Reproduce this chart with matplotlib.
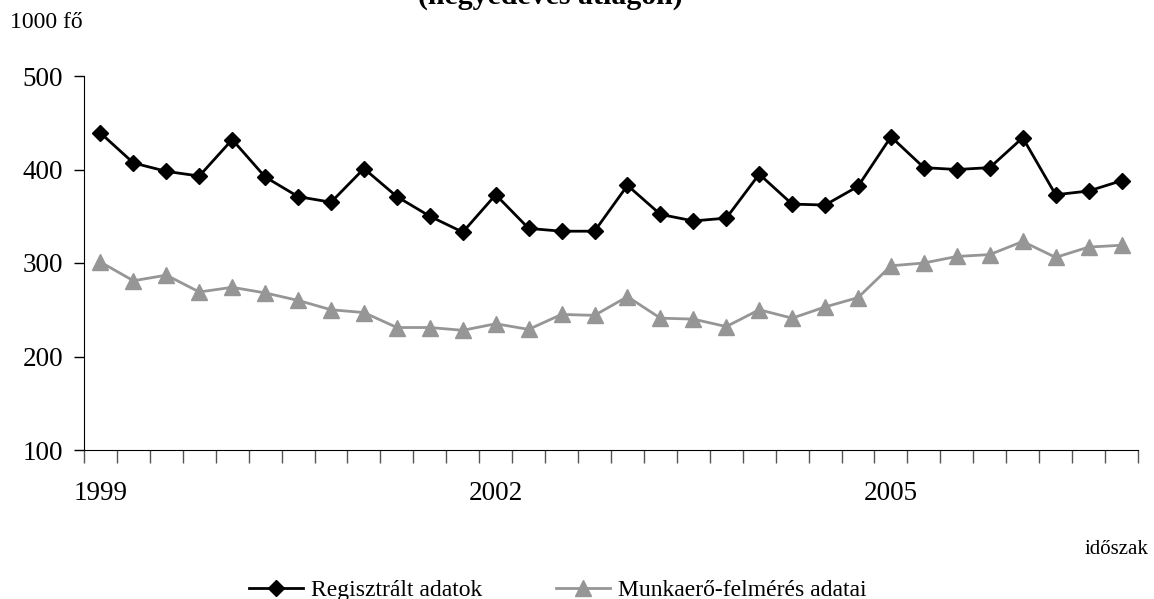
import matplotlib
matplotlib.use("Agg")
import matplotlib.pyplot as plt
from matplotlib.ticker import FixedLocator, NullFormatter

plt.rcParams['font.family'] = ['Liberation Serif', 'DejaVu Serif']

# negyedéves adatok 1999 I. - 2006 IV. (1000 fő)
regisztralt = [439, 407, 398, 393, 432, 392, 371, 365,
               401, 371, 350, 333, 373, 337, 334, 334,
               383, 352, 345, 348, 395, 363, 362, 382,
               435, 402, 400, 402, 434, 373, 377, 388]
munkaero = [301, 281, 287, 269, 274, 268, 260, 250,
            247, 231, 231, 228, 235, 229, 245, 244,
            264, 241, 240, 232, 250, 241, 253, 263,
            297, 300, 307, 309, 323, 306, 317, 319]
year_labels = ["1999", "2002", "2005"]
year_pos = [0, 12, 24]
y_ticks = [100, 200, 300, 400, 500]

x = list(range(len(regisztralt)))

fig = plt.figure(figsize=(11.54, 5.99), dpi=100)
ax = fig.add_axes([84/1154, 1 - 450/599, (1138 - 84)/1154, (450 - 76)/599])

ax.plot(x, regisztralt, color="black", lw=2.0, marker="D", ms=8.5,
        mfc="black", mec="black", label="Regisztrált adatok", clip_on=False)
ax.plot(x, munkaero, color="#969696", lw=2.0, marker="^", ms=12,
        mfc="#969696", mec="#969696", label="Munkaerő-felmérés adatai", clip_on=False)

ax.set_xlim(-0.5, len(x) - 0.5)
ax.set_ylim(100, 500)
ax.set_yticks(y_ticks)
ax.tick_params(axis="y", direction="out", length=7, width=1, labelsize=19.5, pad=8)

# kvartal hatarok major tickkent, evek felirata minor tickkent
ax.xaxis.set_major_locator(FixedLocator([i - 0.5 for i in range(len(x) + 1)]))
ax.xaxis.set_major_formatter(NullFormatter())
ax.xaxis.set_minor_locator(FixedLocator(year_pos))
ax.set_xticklabels(year_labels, minor=True)
ax.tick_params(axis="x", which="major", direction="out", length=9, width=1, color="#555555")
ax.tick_params(axis="x", which="minor", length=0, labelsize=19.5, pad=22)

for s in ["top", "right"]:
    ax.spines[s].set_visible(False)

fig.text(550/1154, 1 - 4/599, "(negyedéves átlagon)", ha="center", va="baseline",
         fontsize=21.5, fontweight="bold")
fig.text(10/1154, 1 - 23/599, "1000 fő", ha="left", va="center", fontsize=17)
fig.text(1148/1154, 1 - 549/599, "időszak", ha="right", va="center", fontsize=15)

fig.legend(loc="center", bbox_to_anchor=(558/1154, 1 - 590/599), ncol=2, frameon=False,
           fontsize=17, handlelength=2.3, handletextpad=0.35, columnspacing=3.1,
           borderpad=0, borderaxespad=0)

fig.savefig("out.png", dpi=100)
